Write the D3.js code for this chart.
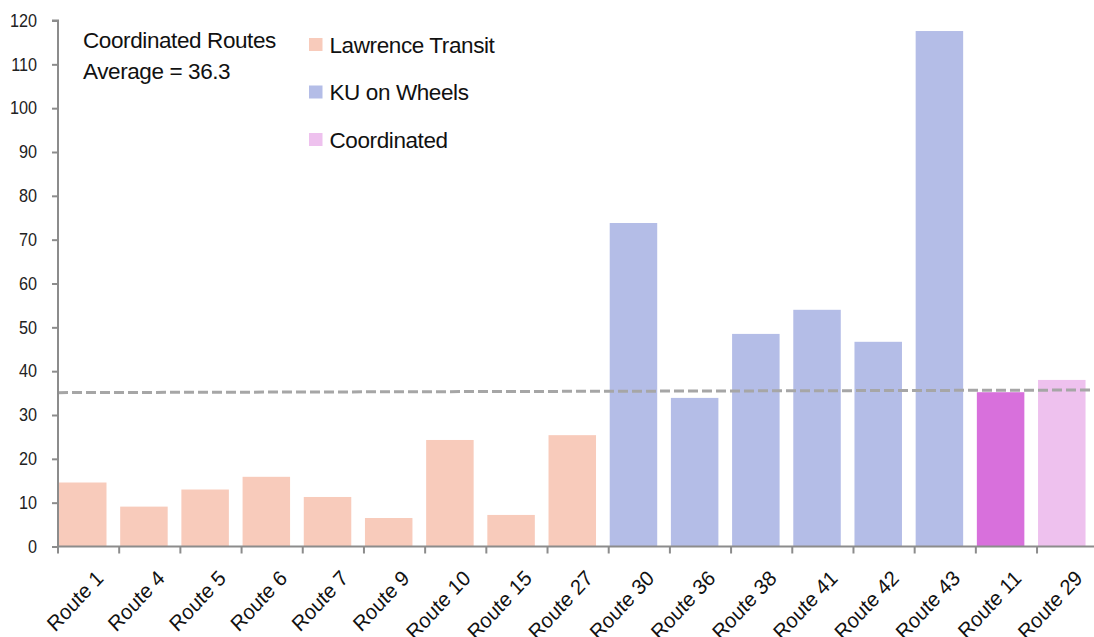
<!DOCTYPE html>
<html>
<head>
<meta charset="utf-8">
<script src="https://cdn.jsdelivr.net/npm/d3@7"></script>
<style>
  html, body { margin: 0; padding: 0; background: #ffffff; }
  svg { display: block; font-family: "Liberation Sans", Arial, sans-serif; }
</style>
</head>
<body>
<svg id="chart" width="1094" height="637"></svg>
<script>
// ---- data ----
const categories = ["Route 1","Route 4","Route 5","Route 6","Route 7","Route 9","Route 10","Route 15","Route 27",
                    "Route 30","Route 36","Route 38","Route 41","Route 42","Route 43","Route 11","Route 29"];
const values = [14.6, 9.1, 13.0, 15.9, 11.3, 6.5, 24.3, 7.2, 25.4,
                73.8, 33.9, 48.5, 54.0, 46.7, 117.6, 35.2, 38.0];
const groups = ["Lawrence Transit","Lawrence Transit","Lawrence Transit","Lawrence Transit","Lawrence Transit",
                "Lawrence Transit","Lawrence Transit","Lawrence Transit","Lawrence Transit",
                "KU on Wheels","KU on Wheels","KU on Wheels","KU on Wheels","KU on Wheels","KU on Wheels",
                "Coordinated Dark","Coordinated"];
const legendNames = ["Lawrence Transit","KU on Wheels","Coordinated"];
const yTicks = [0,10,20,30,40,50,60,70,80,90,100,110,120];
const avgLineValues = [35.1, 35.7];   // drawn dashed line (left end, right end)
const noteLines = ["Coordinated Routes", "Average = 36.3"];

// ---- styles ----
const colors = {
  "Lawrence Transit": "#F8CBBB",
  "KU on Wheels": "#B4BDE7",
  "Coordinated": "#EEC1EE",
  "Coordinated Dark": "#D870DC"
};
const axisColor = "#8c8c8c";

const svg = d3.select("#chart");
const plotLeft = 58, plotTop = 20.5, plotBottom = 546.5;
const step = 61.19;

const x = d3.scaleBand().domain(categories).range([plotLeft, plotLeft + step * categories.length]).padding(0);
const y = d3.scaleLinear().domain([0, 120]).range([plotBottom, plotTop]);

// bars
svg.append("g").selectAll("rect").data(categories).join("rect")
  .attr("x", d => x(d) + 1)
  .attr("width", 47.5)
  .attr("y", (d, i) => y(values[i]))
  .attr("height", (d, i) => y(0) - y(values[i]))
  .attr("fill", (d, i) => colors[groups[i]]);

// average dashed line
const lineX = d3.scaleLinear().domain([0, 1]).range([plotLeft, 1094]);
svg.append("line")
  .attr("x1", lineX(0)).attr("x2", lineX(1))
  .attr("y1", y(avgLineValues[0])).attr("y2", y(avgLineValues[1]))
  .attr("stroke", "#a6a6a6").attr("stroke-width", 3)
  .attr("stroke-dasharray", "10,4");

// y axis
const yAxis = svg.append("g").attr("transform", `translate(${plotLeft},0)`)
  .call(d3.axisLeft(y).tickValues(yTicks).tickSize(6).tickPadding(15).tickFormat(d3.format("d")));
yAxis.select(".domain").attr("stroke", axisColor).attr("stroke-width", 2).attr("d", `M-6,${plotTop}H0V${plotBottom}`);
yAxis.selectAll(".tick line").attr("stroke", axisColor).attr("stroke-width", 2);
yAxis.selectAll(".tick text").attr("font-size", 18).attr("fill", "#222")
  .attr("font-family", "'Liberation Sans', Arial, sans-serif")
  .attr("x", -21 / 0.9).attr("transform", "scale(0.9,1)");

// x axis
const xAxisG = svg.append("g").attr("transform", `translate(0,${plotBottom})`);
xAxisG.append("line").attr("x1", plotLeft).attr("x2", 1094).attr("y1", 0).attr("y2", 0)
  .attr("stroke", axisColor).attr("stroke-width", 2);
xAxisG.selectAll("line.tk").data(categories).join("line").attr("class", "tk")
  .attr("x1", d => x(d)).attr("x2", d => x(d)).attr("y1", 0).attr("y2", 7)
  .attr("stroke", axisColor).attr("stroke-width", 2);

svg.append("g").selectAll("text").data(categories).join("text")
  .attr("transform", d => `translate(${x(d) + 36.5},568.5) scale(0.93,1) rotate(-45)`)
  .attr("text-anchor", "end")
  .attr("dy", "0.72em")
  .attr("font-size", 21.5)
  .attr("fill", "#111")
  .text(d => d);

// note text
svg.append("g").selectAll("text").data(noteLines).join("text")
  .attr("x", 83).attr("y", (d, i) => 48 + i * 30.6)
  .attr("font-size", 22.5).attr("fill", "#111")
  .attr("letter-spacing", -0.4)
  .text(d => d);

// legend
const lg = svg.append("g").selectAll("g").data(legendNames).join("g")
  .attr("transform", (d, i) => `translate(309,${38 + i * 47.5})`);
lg.append("rect").attr("width", 13.5).attr("height", 13).attr("fill", d => colors[d]);
lg.append("text").attr("x", 20.5).attr("y", 14.8).attr("font-size", 22.5).attr("fill", "#111")
  .attr("letter-spacing", -0.4)
  .text(d => d);
</script>
</body>
</html>
